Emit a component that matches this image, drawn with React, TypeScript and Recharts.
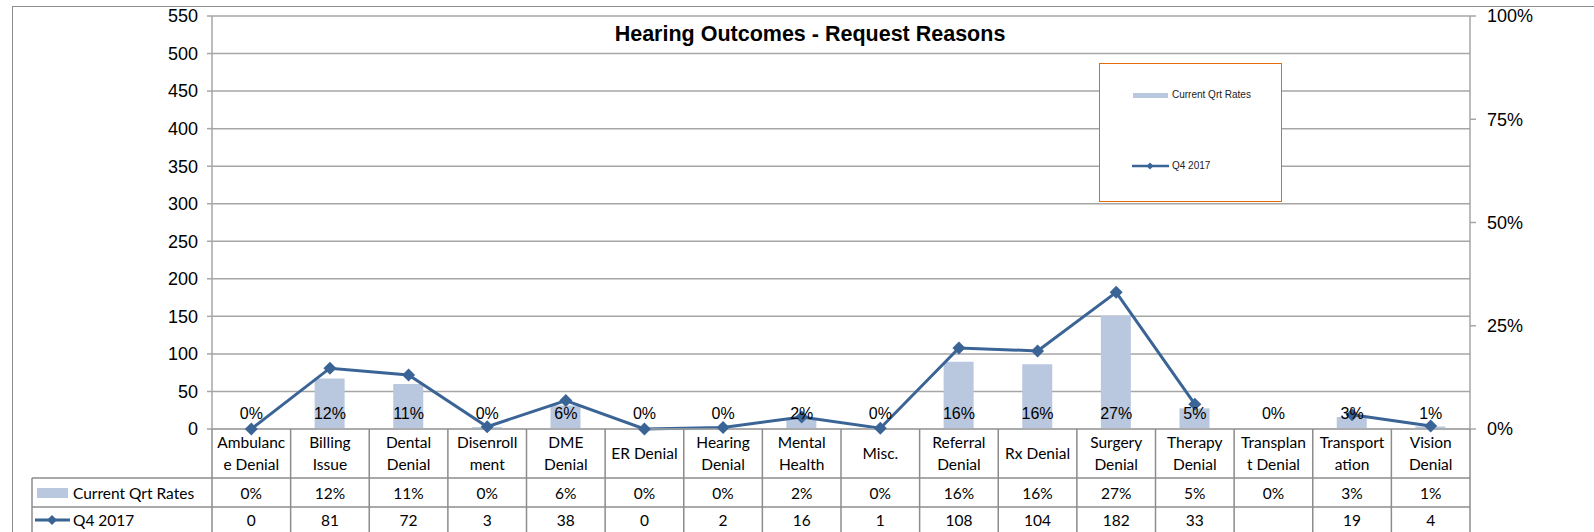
import React from "react";
import { ComposedChart, Bar, Line, XAxis, YAxis, CartesianGrid, Legend } from "recharts";

// Chart data
const CATEGORIES = [
  "Ambulance Denial",
  "Billing Issue",
  "Dental Denial",
  "Disenrollment",
  "DME Denial",
  "ER Denial",
  "Hearing Denial",
  "Mental Health",
  "Misc.",
  "Referral Denial",
  "Rx Denial",
  "Surgery Denial",
  "Therapy Denial",
  "Transplant Denial",
  "Transportation",
  "Vision Denial",
];

// wrapped the way the table cells wrap them
const CATEGORY_LINES = [
  ["Ambulanc", "e Denial"],
  ["Billing", "Issue"],
  ["Dental", "Denial"],
  ["Disenroll", "ment"],
  ["DME", "Denial"],
  ["ER Denial"],
  ["Hearing", "Denial"],
  ["Mental", "Health"],
  ["Misc."],
  ["Referral", "Denial"],
  ["Rx Denial"],
  ["Surgery", "Denial"],
  ["Therapy", "Denial"],
  ["Transplan", "t Denial"],
  ["Transport", "ation"],
  ["Vision", "Denial"],
];

const CURRENT_QRT_RATES = [0, 0.122, 0.109, 0.0045, 0.057, 0, 0.003, 0.024, 0.0015, 0.163, 0.157, 0.274, 0.05, 0, 0.029, 0.006];
const Q4_2017: (number | null)[] = [0, 81, 72, 3, 38, 0, 2, 16, 1, 108, 104, 182, 33, null, 19, 4];

const LEFT_TICKS = [0, 50, 100, 150, 200, 250, 300, 350, 400, 450, 500, 550];
const RIGHT_TICKS = [0, 0.25, 0.5, 0.75, 1];

const chartData = CATEGORIES.map((name, i) => ({
  name,
  rate: CURRENT_QRT_RATES[i],
  q4: Q4_2017[i],
}));

const WIDTH = 1594;
const HEIGHT = 535;
const LEFT_W = 212;
const RIGHT_W = 124;
const CELL_W = (WIDTH - LEFT_W - RIGHT_W) / CATEGORIES.length;
const TABLE_LEFT = 32;

const BAR_COLOR = "#B9C7DF";
const LINE_COLOR = "#3B6496";
const GRID_COLOR = "#A6A6A6";
const TABLE_LINE = "#8C8C8C";
const AXIS_FONT = "'Liberation Sans', Arial, sans-serif";
const TABLE_FONT = "Lato, 'Open Sans', sans-serif";

const pct = (v: number) => `${Math.round(v * 100)}%`;

const diamond = (cx: number, cy: number, r: number) =>
  `${cx},${cy - r} ${cx + r},${cy} ${cx},${cy + r} ${cx - r},${cy}`;

// Draws one column of the data table under the axis (plus the row headers on the first one).
// The bar's percentage label sits just above the axis, so it is drawn here too.
function TableTick(props: any) {
  const { x, y, payload } = props;
  const i = payload.index;
  const left = x - CELL_W / 2;
  const right = x + CELL_W / 2;
  const r1 = y + 49;
  const r2 = r1 + 29;
  const r3 = r2 + 28;
  const lines = CATEGORY_LINES[i];
  const val = Q4_2017[i];
  const textStyle = { fontFamily: TABLE_FONT, fontSize: 15.5, fill: "#000" };

  return (
    <g>
      <text
        x={x}
        y={y - 10.5}
        textAnchor="middle"
        style={{ fontFamily: AXIS_FONT, fontSize: 16, fill: "#000" }}
      >
        {pct(CURRENT_QRT_RATES[i])}
      </text>

      <line x1={left} y1={y} x2={left} y2={r3} stroke={TABLE_LINE} strokeWidth={1.5} />
      {i === CATEGORIES.length - 1 && (
        <line x1={right} y1={y} x2={right} y2={r3} stroke={TABLE_LINE} strokeWidth={1.5} />
      )}
      <line x1={left} y1={r1} x2={right} y2={r1} stroke={TABLE_LINE} strokeWidth={1.5} />
      <line x1={left} y1={r2} x2={right} y2={r2} stroke={TABLE_LINE} strokeWidth={1.5} />
      <line x1={left} y1={r3} x2={right} y2={r3} stroke={TABLE_LINE} strokeWidth={1.5} />

      {lines.length === 2 ? (
        <>
          <text x={x} y={y + 13} textAnchor="middle" dominantBaseline="central" style={textStyle}>{lines[0]}</text>
          <text x={x} y={y + 35} textAnchor="middle" dominantBaseline="central" style={textStyle}>{lines[1]}</text>
        </>
      ) : (
        <text x={x} y={y + 24} textAnchor="middle" dominantBaseline="central" style={textStyle}>{lines[0]}</text>
      )}
      <text x={x} y={r1 + 15} textAnchor="middle" dominantBaseline="central" style={textStyle}>
        {pct(CURRENT_QRT_RATES[i])}
      </text>
      <text x={x} y={r2 + 13} textAnchor="middle" dominantBaseline="central" style={textStyle}>
        {val == null ? "" : val}
      </text>

      {i === 0 && (
        <g>
          <line x1={TABLE_LEFT} y1={r1} x2={left} y2={r1} stroke={TABLE_LINE} strokeWidth={1.5} />
          <line x1={TABLE_LEFT} y1={r2} x2={left} y2={r2} stroke={TABLE_LINE} strokeWidth={1.5} />
          <line x1={TABLE_LEFT} y1={r3} x2={left} y2={r3} stroke={TABLE_LINE} strokeWidth={1.5} />
          <line x1={TABLE_LEFT} y1={r1} x2={TABLE_LEFT} y2={r3} stroke={TABLE_LINE} strokeWidth={1.5} />
          <rect x={TABLE_LEFT + 5} y={r1 + 10} width={31} height={10} fill={BAR_COLOR} />
          <text x={TABLE_LEFT + 41} y={r1 + 15} dominantBaseline="central" style={textStyle}>Current Qrt Rates</text>
          <line x1={TABLE_LEFT + 3} y1={r2 + 13} x2={TABLE_LEFT + 38} y2={r2 + 13} stroke={LINE_COLOR} strokeWidth={3} />
          <polygon points={diamond(TABLE_LEFT + 20, r2 + 13, 5)} fill={LINE_COLOR} />
          <text x={TABLE_LEFT + 41} y={r2 + 13} dominantBaseline="central" style={textStyle}>Q4 2017</text>
        </g>
      )}
    </g>
  );
}

function DiamondDot(props: any) {
  const { cx, cy, index } = props;
  if (cx == null || cy == null) return <g key={`d-${index}`} />;
  return <polygon key={`d-${index}`} points={diamond(cx, cy, 6.5)} fill={LINE_COLOR} />;
}

function LegendBox() {
  return (
    <div
      style={{
        width: 183,
        height: 139,
        boxSizing: "border-box",
        border: "1.5px solid #E46C0A",
        background: "#fff",
        position: "relative",
        fontFamily: AXIS_FONT,
        fontSize: 10,
        color: "#222",
      }}
    >
      <div style={{ position: "absolute", left: 33, top: 29, width: 35, height: 5, background: BAR_COLOR }} />
      <div style={{ position: "absolute", left: 72, top: 25, lineHeight: "12px" }}>Current Qrt Rates</div>
      <svg style={{ position: "absolute", left: 31, top: 95 }} width={40} height={14}>
        <line x1={1} y1={7} x2={38} y2={7} stroke={LINE_COLOR} strokeWidth={2.5} />
        <polygon points={diamond(19, 7, 3.5)} fill={LINE_COLOR} />
      </svg>
      <div style={{ position: "absolute", left: 72, top: 96, lineHeight: "12px" }}>Q4 2017</div>
    </div>
  );
}

export default function App() {
  return (
    <div style={{ position: "absolute", left: 0, top: 0, width: WIDTH, height: 532, overflow: "hidden", background: "#fff" }}>
      <ComposedChart
        width={WIDTH}
        height={HEIGHT}
        data={chartData}
        margin={{ top: 16, right: 0, bottom: 0, left: 0 }}
      >
        <CartesianGrid yAxisId="left" vertical={false} stroke={GRID_COLOR} strokeWidth={1.5} />
        <XAxis
          dataKey="name"
          height={106}
          interval={0}
          tickLine={false}
          tickSize={0}
          tickMargin={0}
          axisLine={{ stroke: GRID_COLOR, strokeWidth: 1.5 }}
          tick={(p: any) => <TableTick {...p} />}
        />
        <YAxis
          yAxisId="left"
          width={LEFT_W}
          domain={[0, 550]}
          ticks={LEFT_TICKS}
          interval={0}
          tickSize={5}
          tickMargin={9}
          axisLine={{ stroke: GRID_COLOR, strokeWidth: 1.5 }}
          tickLine={{ stroke: GRID_COLOR, strokeWidth: 1.5 }}
          tick={{ fill: "#000", fontSize: 18, fontFamily: AXIS_FONT }}
        />
        <YAxis
          yAxisId="right"
          orientation="right"
          width={RIGHT_W}
          domain={[0, 1]}
          ticks={RIGHT_TICKS}
          interval={0}
          tickSize={6}
          tickMargin={11}
          tickFormatter={pct}
          axisLine={{ stroke: GRID_COLOR, strokeWidth: 1.5 }}
          tickLine={{ stroke: GRID_COLOR, strokeWidth: 1.5 }}
          tick={{ fill: "#000", fontSize: 18, fontFamily: AXIS_FONT }}
        />
        <Bar yAxisId="right" dataKey="rate" name="Current Qrt Rates" fill={BAR_COLOR} barSize={30} isAnimationActive={false} />
        <Line
          yAxisId="left"
          dataKey="q4"
          name="Q4 2017"
          stroke={LINE_COLOR}
          strokeWidth={3}
          dot={(p: any) => <DiamondDot {...p} />}
          activeDot={false}
          connectNulls={false}
          isAnimationActive={false}
        />
        <Legend
          layout="horizontal"
          verticalAlign="middle"
          align="center"
          content={() => <LegendBox />}
          wrapperStyle={{ left: 1099, top: 63, width: 183, height: 139 }}
        />
        <text
          x={810}
          y={34}
          textAnchor="middle"
          dominantBaseline="central"
          style={{ fontFamily: AXIS_FONT, fontSize: 21.5, fontWeight: "bold", fill: "#000" }}
        >
          Hearing Outcomes - Request Reasons
        </text>
      </ComposedChart>
      <div
        style={{
          position: "absolute",
          left: 12,
          top: 6,
          width: 1700,
          height: 600,
          border: "1.5px solid #8C8C8C",
          pointerEvents: "none",
        }}
      />
    </div>
  );
}
